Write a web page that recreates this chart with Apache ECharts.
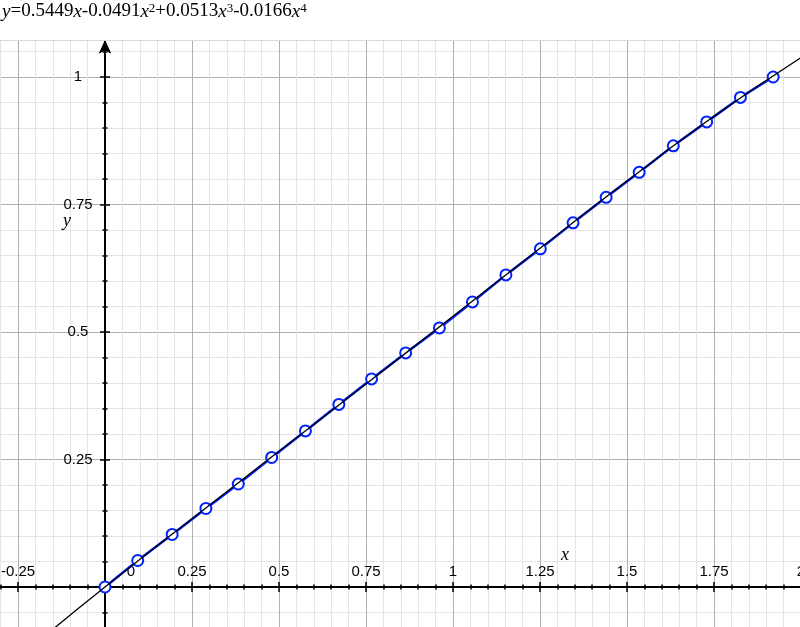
<!DOCTYPE html>
<html><head><meta charset="utf-8">
<script src="https://cdn.jsdelivr.net/npm/echarts@6/dist/echarts.min.js"></script>
<style>html,body{margin:0;padding:0;background:#fff}#c{width:800px;height:627px}</style>
</head><body><div id="c"></div>
<script>
// measured data points
const dataX = [0, 0.094, 0.193, 0.290, 0.383, 0.479, 0.576, 0.672, 0.766, 0.864, 0.961, 1.056, 1.152, 1.251, 1.345, 1.440, 1.535, 1.633, 1.729, 1.826, 1.920];
const dataY = [0, 0.052, 0.103, 0.154, 0.202, 0.254, 0.306, 0.358, 0.408, 0.459, 0.508, 0.559, 0.612, 0.663, 0.714, 0.764, 0.813, 0.865, 0.912, 0.960, 1.000];
// fitted curve
const fitX = [-0.3, -0.15, 0, 0.25, 0.5, 0.75, 1, 1.25, 1.5, 1.75, 2.0];
const fitY = [-0.170, -0.083, 0, 0.134, 0.266, 0.398, 0.531, 0.664, 0.796, 0.923, 1.038];
const xTickLabels = ['-0.25', '0', '0.25', '0.5', '0.75', '1', '1.25', '1.5', '1.75', '2'];
const yTickLabels = ['0.25', '0.5', '0.75', '1'];
const titleRich = '{i|y}=0.5449{i|x}-0.0491{i|x}{s|2}+0.0513{i|x}{s|3}-0.0166{i|x}{s|4}';

const SANS = 'Liberation Sans, Arial, Helvetica, sans-serif';
const SERIF = 'Liberation Serif, Times New Roman, serif';
const MAJOR = '#b0b0b0', MINOR = '#e4e4e4', AXIS = '#000';

// grid geometry (plot extends past the canvas so the axis ranges are tick multiples)
const G = {left: -69, right: -1, top: -50.5, bottom: -87.5, W: 800, H: 627};
const X_MIN = -0.5, X_MAX = 2.0, Y_MIN = -0.25, Y_MAX = 1.25;
const gx0 = G.left, gx1 = G.W - G.right, gy0 = G.top, gy1 = G.H - G.bottom;
const originX = gx0 + (0 - X_MIN) / (X_MAX - X_MIN) * (gx1 - gx0);
const originY = gy1 - (0 - Y_MIN) / (Y_MAX - Y_MIN) * (gy1 - gy0);

function fmt(v, list) {
  const s = String(+(+v).toFixed(2));
  return list.indexOf(s) >= 0 ? s : '';
}

const chart = echarts.init(document.getElementById('c'), null, {renderer: 'canvas'});
const baseTick = {show: true, length: 5, lineStyle: {color: AXIS, width: 1.5}};
const baseMinor = {show: true, splitNumber: 5, length: 2.5, lineStyle: {color: AXIS, width: 1.5}};

chart.setOption({
  animation: false,
  backgroundColor: '#fff',
  grid: {left: G.left, right: G.right, top: G.top, bottom: G.bottom, containLabel: false, outerBoundsMode: 'none'},
  xAxis: [
    {
      type: 'value', min: X_MIN, max: X_MAX, interval: 0.25, position: 'bottom',
      offset: originY - gy1,
      axisLine: {show: true, onZero: false, lineStyle: {color: AXIS, width: 2}},
      axisTick: baseTick, minorTick: baseMinor,
      axisLabel: {show: false},
      splitLine: {show: true, lineStyle: {color: MAJOR, width: 1}},
      minorSplitLine: {show: true, lineStyle: {color: MINOR, width: 1}}
    },
    {
      type: 'value', min: X_MIN, max: X_MAX, interval: 0.25, position: 'top',
      offset: gy0 - originY,
      axisLine: {show: false, onZero: false},
      axisTick: baseTick, minorTick: baseMinor,
      axisLabel: {
        show: true, margin: 8, fontSize: 15, fontFamily: SANS, color: '#000', hideOverlap: false,
        formatter: function (v) {
          if (Math.abs(v) < 1e-9) return '{z|0}';
          return fmt(v, xTickLabels);
        },
        rich: {z: {fontSize: 15, fontFamily: SANS, color: '#000', padding: [0, 0, 0, 52]}}
      },
      splitLine: {show: false}, minorSplitLine: {show: false}
    }
  ],
  yAxis: [
    {
      type: 'value', min: Y_MIN, max: Y_MAX, interval: 0.25, position: 'left',
      offset: gx0 - originX,
      axisLine: {show: true, onZero: false, lineStyle: {color: AXIS, width: 2}},
      axisTick: baseTick, minorTick: baseMinor,
      axisLabel: {
        show: true, margin: 27, align: 'center', fontSize: 15, fontFamily: SANS, color: '#000',
        padding: [5, 0, 0, 0], hideOverlap: false,
        formatter: function (v) { return Math.abs(v) < 1e-9 ? '' : fmt(v, yTickLabels); }
      },
      splitLine: {show: true, lineStyle: {color: MAJOR, width: 1}},
      minorSplitLine: {show: true, lineStyle: {color: MINOR, width: 1}}
    },
    {
      type: 'value', min: Y_MIN, max: Y_MAX, interval: 0.25, position: 'right',
      offset: originX - gx1,
      axisLine: {show: false, onZero: false},
      axisTick: baseTick, minorTick: baseMinor,
      axisLabel: {show: false},
      splitLine: {show: false}, minorSplitLine: {show: false}
    }
  ],
  series: [
    {
      type: 'line', name: 'data', xAxisIndex: 0, yAxisIndex: 0,
      data: dataX.map((x, i) => [x, dataY[i]]),
      symbol: 'emptyCircle', symbolSize: 11, showAllSymbol: true,
      lineStyle: {color: '#0022ff', width: 2.5},
      itemStyle: {color: '#0022ff', borderColor: '#0022ff', borderWidth: 2.2},
      emphasis: {disabled: true}, z: 3
    },
    {
      type: 'line', name: 'fit', xAxisIndex: 0, yAxisIndex: 0,
      data: fitX.map((x, i) => [x, fitY[i]]),
      smooth: true, symbol: 'none', showSymbol: false,
      lineStyle: {color: '#000', width: 1.3},
      emphasis: {disabled: true}, z: 4
    }
  ]
});

const o = chart.convertToPixel({gridIndex: 0}, [0, 0]);
const ax = o[0];
chart.setOption({
  graphic: [
    {type: 'rect', z: 100, silent: true, shape: {x: 0, y: 0, width: 800, height: 40}, style: {fill: '#fff'}},
    {type: 'line', z: 101, silent: true, shape: {x1: 0, y1: 40.5, x2: 800, y2: 40.5}, style: {stroke: '#d9d9d9', lineWidth: 1}},
    {type: 'polygon', z: 102, silent: true,
      shape: {points: [[ax, 41], [ax + 5.5, 53], [ax, 49.5], [ax - 5.5, 53]]},
      style: {fill: '#000', stroke: '#000', lineWidth: 1}},
    {type: 'text', z: 103, silent: true, x: 2, y: 2,
      style: {text: titleRich, font: '19px ' + SERIF, fill: '#000', textVerticalAlign: 'top',
        rich: {i: {fontStyle: 'italic', fontSize: 19, fontFamily: SERIF, fill: '#000'},
               s: {fontSize: 13, fontFamily: SERIF, fill: '#000', verticalAlign: 'top'}}}},
    {type: 'text', z: 103, silent: true, x: 565, y: 555,
      style: {text: 'x', font: 'italic 18px ' + SERIF, fill: '#000', align: 'center', verticalAlign: 'middle'}},
    {type: 'text', z: 103, silent: true, x: 67, y: 221,
      style: {text: 'y', font: 'italic 18px ' + SERIF, fill: '#000', align: 'center', verticalAlign: 'middle'}}
  ]
});
</script>
</body></html>
